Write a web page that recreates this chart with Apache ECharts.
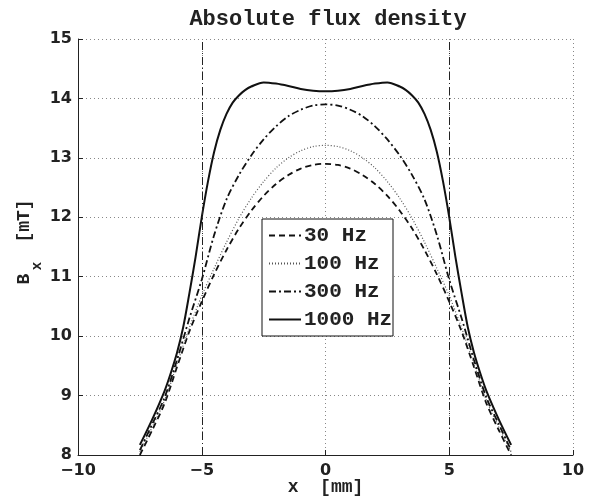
<!DOCTYPE html>
<html><head><meta charset="utf-8">
<script src="https://cdn.jsdelivr.net/npm/echarts@6/dist/echarts.min.js"></script>
<style>html,body{margin:0;padding:0;background:#fff}#c{width:595px;height:497px}</style>
</head><body><div id="c"></div>
<script>
const titleText = 'Absolute flux density';
const xName = 'x  [mm]';
const seriesNames = ['30 Hz', '100 Hz', '300 Hz', '1000 Hz'];
const xTicks = [-10, -5, 0, 5, 10];
const yTicks = [8, 9, 10, 11, 12, 13, 14, 15];
const markX = [-5, 5];

const xLow = [-7.5,-7,-6.5,-6,-5.5,-5,-4.5,-4,-3.5,-3,-2.5,-2,-1.5,-1,-0.5,0,0.5,1,1.5,2,2.5,3,3.5,4,4.5,5,5.5,6,6.5,7,7.5];
const y30 = [8.0,8.42,8.87,9.48,10.08,10.58,11.04,11.45,11.81,12.11,12.36,12.56,12.71,12.82,12.88,12.90,12.88,12.82,12.71,12.56,12.36,12.11,11.81,11.45,11.04,10.58,10.08,9.48,8.87,8.42,8.0];
const y100 = [8.05,8.47,8.92,9.53,10.14,10.68,11.14,11.58,11.98,12.32,12.6,12.83,13.0,13.12,13.19,13.21,13.19,13.12,13.0,12.83,12.6,12.32,11.98,11.58,11.14,10.68,10.14,9.53,8.92,8.47,8.05];
const y300 = [8.08,8.52,8.97,9.6,10.3,10.95,11.7,12.3,12.71,13.04,13.31,13.53,13.7,13.81,13.88,13.9,13.88,13.81,13.7,13.53,13.31,13.04,12.71,12.3,11.7,10.95,10.3,9.6,8.97,8.52,8.08];
const xHigh = [-7.5,-7,-6.5,-6.25,-6,-5.75,-5.5,-5.25,-5,-4.75,-4.5,-4.25,-4,-3.75,-3.5,-3.25,-3,-2.5,-2,-1.5,-1,-0.5,0,0.5,1,1.5,2,2.5,3,3.25,3.5,3.75,4,4.25,4.5,4.75,5,5.25,5.5,5.75,6,6.25,6.5,7,7.5];
const y1000 = [8.17,8.6,9.08,9.38,9.72,10.15,10.72,11.33,12.0,12.6,13.1,13.47,13.74,13.93,14.05,14.14,14.2,14.27,14.25,14.21,14.16,14.13,14.12,14.13,14.16,14.21,14.25,14.27,14.2,14.14,14.05,13.93,13.74,13.47,13.1,12.6,12.0,11.33,10.72,10.15,9.72,9.38,9.08,8.6,8.17];

const pair = (xs, ys) => xs.map((x, i) => [x, ys[i]]);
const mono = '"Liberation Mono", "DejaVu Sans Mono", monospace';
const sans = '"DejaVu Sans", sans-serif';

const chart = echarts.init(document.getElementById('c'), null, {renderer: 'canvas'});
const base = (name, data, ls) => ({
  name, type: 'line', data, symbol: 'none', smooth: 0.3,
  lineStyle: Object.assign({color: '#111'}, ls), itemStyle: {color: '#111'}, z: 3
});
const s30 = base(seriesNames[0], pair(xLow, y30), {width: 1.8, type: [6, 4]});
s30.markLine = {
  silent: true, symbol: 'none', label: {show: false},
  lineStyle: {color: '#222', width: 1, type: [8, 3, 1, 3]},
  data: markX.map(v => ({xAxis: v}))
};
chart.setOption({
  animation: false,
  backgroundColor: '#fff',
  title: {text: titleText, left: 323, top: 3, textAlign: 'center',
    textStyle: {fontFamily: mono, fontWeight: 'bold', fontSize: 22, color: '#222'}},
  grid: {left: 78, right: 22, top: 39, bottom: 42, containLabel: false, outerBoundsMode: 'none'},
  xAxis: {type: 'value', min: -10, max: 10, interval: 5,
    name: xName, nameLocation: 'middle', nameGap: 23, nameMoveOverlap: false,
    nameTextStyle: {fontFamily: mono, fontWeight: 'bold', fontSize: 18, color: '#222'},
    axisLine: {onZero: false, lineStyle: {color: '#222', width: 1}},
    axisTick: {inside: true, length: 5, lineStyle: {color: '#222'}},
    axisLabel: {fontFamily: sans, fontWeight: 'bold', fontSize: 16, color: '#222', margin: 8,
      formatter: v => (v < 0 ? '\u2212' + Math.abs(v) : String(v))},
    splitLine: {show: true, lineStyle: {color: '#888', width: 1, type: [1, 3]}}
  },
  yAxis: {type: 'value', min: 8, max: 15, interval: 1,
    axisLine: {show: true, onZero: false, lineStyle: {color: '#222', width: 1}},
    axisTick: {show: true, inside: true, length: 5, lineStyle: {color: '#222'}},
    axisLabel: {fontFamily: sans, fontWeight: 'bold', fontSize: 16, color: '#222', margin: 6},
    splitLine: {show: true, lineStyle: {color: '#888', width: 1, type: [1, 3]}}
  },
  legend: {
    orient: 'vertical', left: 262, top: 225, itemWidth: 32, itemHeight: 14, itemGap: 7,
    padding: [0, 0, 0, 6], z: 10,
    itemStyle: {color: 'rgba(0,0,0,0)', borderColor: 'rgba(0,0,0,0)', borderWidth: 0, opacity: 0},
    textStyle: {fontFamily: mono, fontWeight: 'bold', fontSize: 21, color: '#222', padding: [0, 0, 0, -2]},
    data: seriesNames
  },
  graphic: [
    {type: 'rect', shape: {x: 262, y: 219, width: 131, height: 117}, z: 5,
      style: {fill: '#fff', stroke: '#111', lineWidth: 1}},
    {type: 'text', x: 24, y: 279, rotation: Math.PI / 2, z: 5,
      style: {text: 'B', font: 'bold 18px ' + mono, fill: '#222', textAlign: 'center', textVerticalAlign: 'middle'}},
    {type: 'text', x: 37, y: 266, rotation: Math.PI / 2, z: 5,
      style: {text: 'x', font: 'bold 14px ' + mono, fill: '#222', textAlign: 'center', textVerticalAlign: 'middle'}},
    {type: 'text', x: 24, y: 221, rotation: Math.PI / 2, z: 5,
      style: {text: '[mT]', font: 'bold 18px ' + mono, fill: '#222', textAlign: 'center', textVerticalAlign: 'middle'}}
  ],
  series: [
    s30,
    base(seriesNames[1], pair(xLow, y100), {width: 1.2, type: [1, 2], color: '#555'}),
    base(seriesNames[2], pair(xLow, y300), {width: 1.8, type: [7, 3, 2, 3]}),
    base(seriesNames[3], pair(xHigh, y1000), {width: 2, type: 'solid'})
  ]
});
</script></body></html>
